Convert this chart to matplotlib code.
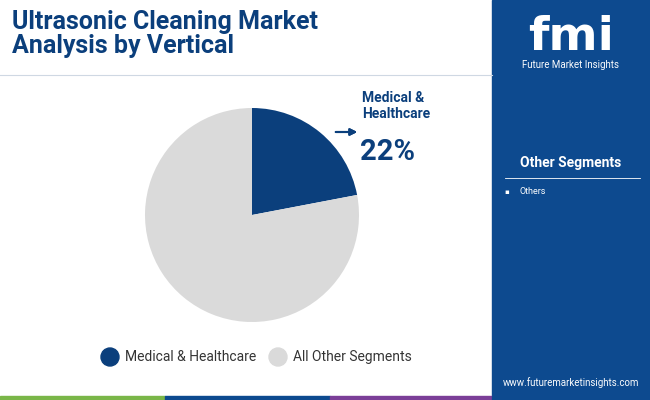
import matplotlib
matplotlib.use("Agg")
import matplotlib.pyplot as plt
from matplotlib.patches import Rectangle

categories = ["Medical & Healthcare", "All Other Segments"]
values = [22, 78]
colors = ["#0b3f7c", "#dadada"]
navy = "#0b3f7c"

fig = plt.figure(figsize=(6.5, 4.0), dpi=100)
fig.patch.set_facecolor("white")

fig.patches.append(Rectangle((492/650, 0), 158/650, 1, transform=fig.transFigure, color="#0d4a8f", zorder=0))
fig.text(12/650, 1-34/400, "Ultrasonic Cleaning Market\nAnalysis by Vertical", fontsize=18, fontweight="bold",
         color=navy, va="center", ha="left", family="Roboto", linespacing=1.05)
fig.add_artist(plt.Line2D([0, 492/650], [1-75/400, 1-75/400], color="#cfd8e3", lw=0.8, transform=fig.transFigure))
strip = [("#7ab648", 0, 165), ("#0d4a8f", 165, 330), ("#7b3f98", 330, 492), ("#0d4a8f", 492, 650)]
for c, a, b in strip:
    fig.patches.append(Rectangle((a/650, 0), (b-a)/650, 4/400, transform=fig.transFigure, color=c, zorder=5))

fig.text(571/650, 1-37/400, "fmi", fontsize=34, fontweight="bold", color="white", ha="center", va="center", family="DejaVu Sans")
fig.text(571/650, 1-65/400, "Future Market Insights", fontsize=7, color="white", ha="center", va="center", family="Roboto")
fig.text(571/650, 1-163/400, "Other Segments", fontsize=10, fontweight="bold", color="white", ha="center", va="center", family="Roboto")
fig.add_artist(plt.Line2D([505/650, 640/650], [1-178/400, 1-178/400], color="white", lw=0.6, transform=fig.transFigure))
fig.text(507/650, 1-192/400, "▪", fontsize=5, color="white", ha="center", va="center")
fig.text(519/650, 1-192/400, "Others", fontsize=6.5, color="white", ha="left", va="center", family="Roboto")
fig.text(571/650, 1-383/400, "www.futuremarketinsights.com", fontsize=7, color="white", ha="center", va="center", family="Roboto")

ax = fig.add_axes([(252-107)/650, (400-322)/400, 214/650, 214/400])
ax.pie(values, colors=colors, startangle=90, counterclock=False, radius=1.0)
ax.set_xlim(-1, 1); ax.set_ylim(-1, 1)
ax.set_aspect("equal")
ax.axis("off")

fig.text(362/650, 1-106/400, "Medical &\nHealthcare", fontsize=10, fontweight="bold", color=navy, ha="left", va="center", family="Roboto", linespacing=1.2)
fig.text(360/650, 1-152/400, f"{values[0]}%", fontsize=21, fontweight="bold", color=navy, ha="left", va="center", family="Roboto")
fig.add_artist(plt.annotate("", xy=(360/650, 1-132/400), xytext=(333/650, 1-132/400), xycoords="figure fraction",
                            arrowprops=dict(arrowstyle="-|>", color=navy, lw=1.5, mutation_scale=10)))

lx = [110, 278]
for i, (cat, c) in enumerate(zip(categories, colors)):
    fig.patches.append(matplotlib.patches.Ellipse((lx[i]/650, 1-357/400), 18/650, 18/400, transform=fig.transFigure, color=c))
    fig.text((lx[i]+15)/650, 1-357/400, cat, fontsize=10, color="#333333", ha="left", va="center", family="Roboto")

fig.savefig("out.png", dpi=100)
